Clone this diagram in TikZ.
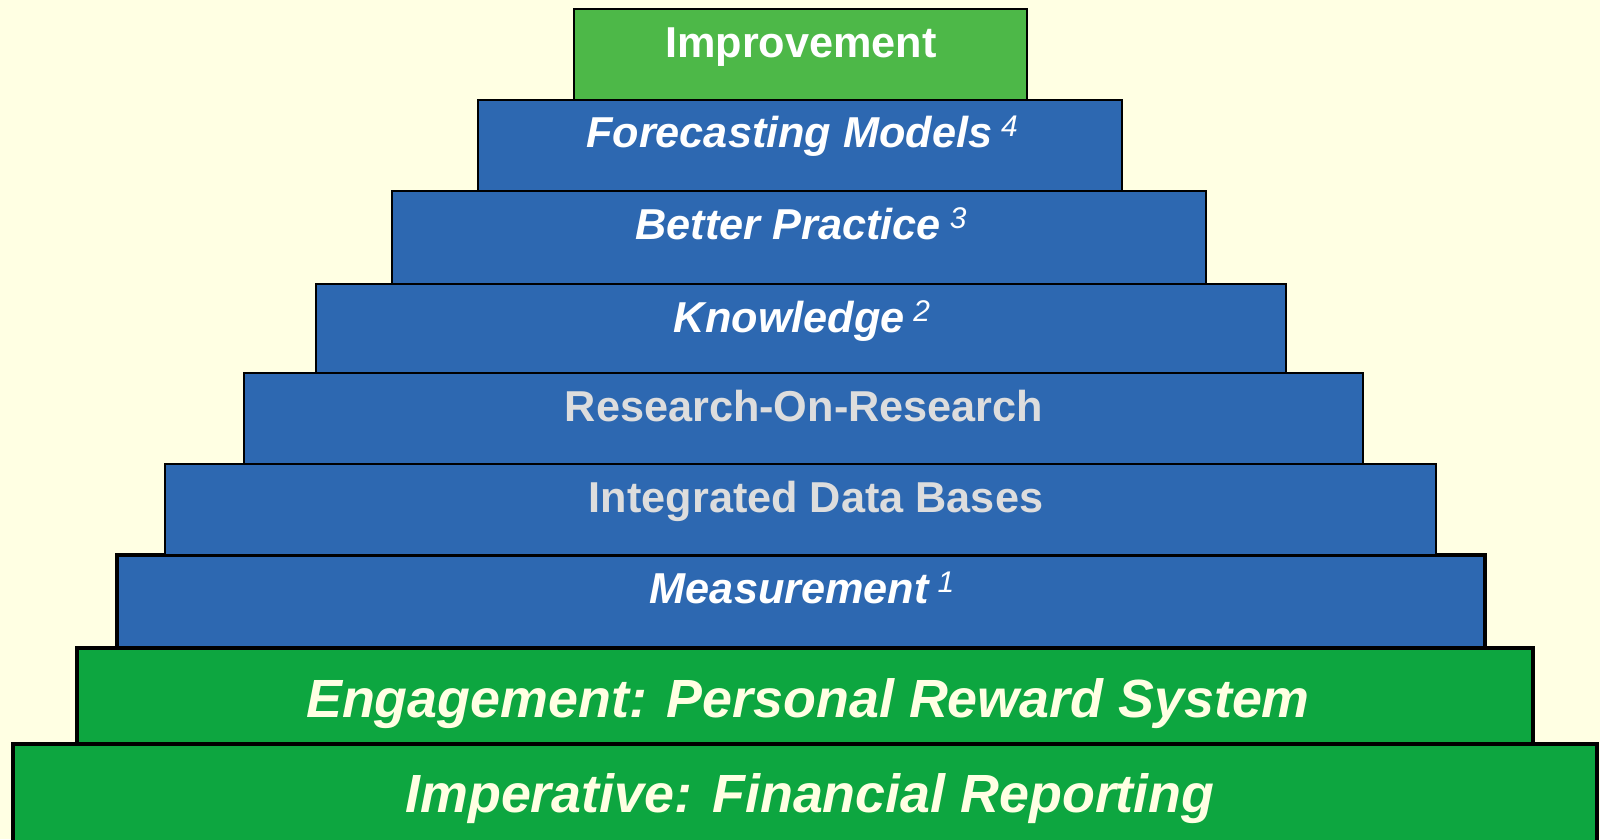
\documentclass[tikz,border=0pt]{standalone}
\usepackage{fontspec}
\setmainfont{Liberation Sans}
\definecolor{paper}{HTML}{FFFFE3}
\definecolor{stepblue}{HTML}{2D68B1}
\definecolor{topgreen}{HTML}{4DB848}
\definecolor{basegreen}{HTML}{0DA640}
\definecolor{lightgrey}{HTML}{DDDDDD}
% small raised step number after a label
\newcommand\stepno[1]{\hspace{2.5pt}\raisebox{3pt}{\fontsize{8.5}{8.5}\selectfont\mdseries\itshape #1}}

\begin{document}
\begin{tikzpicture}[x=0.01cm,y=-0.01cm,
  bluebox/.style={draw=black,line width=0.5pt,fill=stepblue},
  basebox/.style={draw=black,line width=1.2pt,fill=basegreen},
  steptext/.style={anchor=base,inner sep=0pt,text=white,
    font=\fontsize{12.3}{14}\selectfont\bfseries},
  basetext/.style={anchor=base,inner sep=0pt,text=paper,
    font=\fontsize{15.3}{18}\selectfont\bfseries\itshape}]
  % 背景
  \fill[paper] (0,0) rectangle (1600,839);
  \useasboundingbox (0,0) rectangle (1600,839);
  % 底部两层
  \draw[basebox] (13,744) rectangle (1597,860);
  \node[basetext] (imperative) at (810,812) {Imperative: Financial Reporting};
  \draw[basebox] (77,648) rectangle (1533,744);
  \node[basetext] (engagement) at (808,717) {Engagement: Personal Reward System};
  % 中间蓝色台阶
  \draw[bluebox,line width=1.2pt] (117,555) rectangle (1485,648);
  \node[steptext,font=\fontsize{12.3}{14}\selectfont\bfseries\itshape] (measure) at (802,603) {Measurement\stepno{1}};
  \draw[bluebox] (165,464) rectangle (1436,555);
  \node[steptext,text=lightgrey] (database) at (816,512) {Integrated Data Bases};
  \draw[bluebox] (244,373) rectangle (1363,464);
  \node[steptext,text=lightgrey] (ror) at (804,421) {Research-On-Research};
  \draw[bluebox] (316,284) rectangle (1286,373);
  \node[steptext,font=\fontsize{12.3}{14}\selectfont\bfseries\itshape] (knowledge) at (802,332) {Knowledge\stepno{2}};
  \draw[bluebox] (392,191) rectangle (1206,284);
  \node[steptext,font=\fontsize{12.3}{14}\selectfont\bfseries\itshape] (practice) at (801,239) {Better Practice\stepno{3}};
  \draw[bluebox] (478,100) rectangle (1122,191);
  \node[steptext,font=\fontsize{12.3}{14}\selectfont\bfseries\itshape] (forecast) at (802,147) {Forecasting Models\stepno{4}};
  % 顶层
  \draw[bluebox,fill=topgreen] (574,9) rectangle (1027,100);
  \node[steptext] (improve) at (801,57) {Improvement};
\end{tikzpicture}
\end{document}
